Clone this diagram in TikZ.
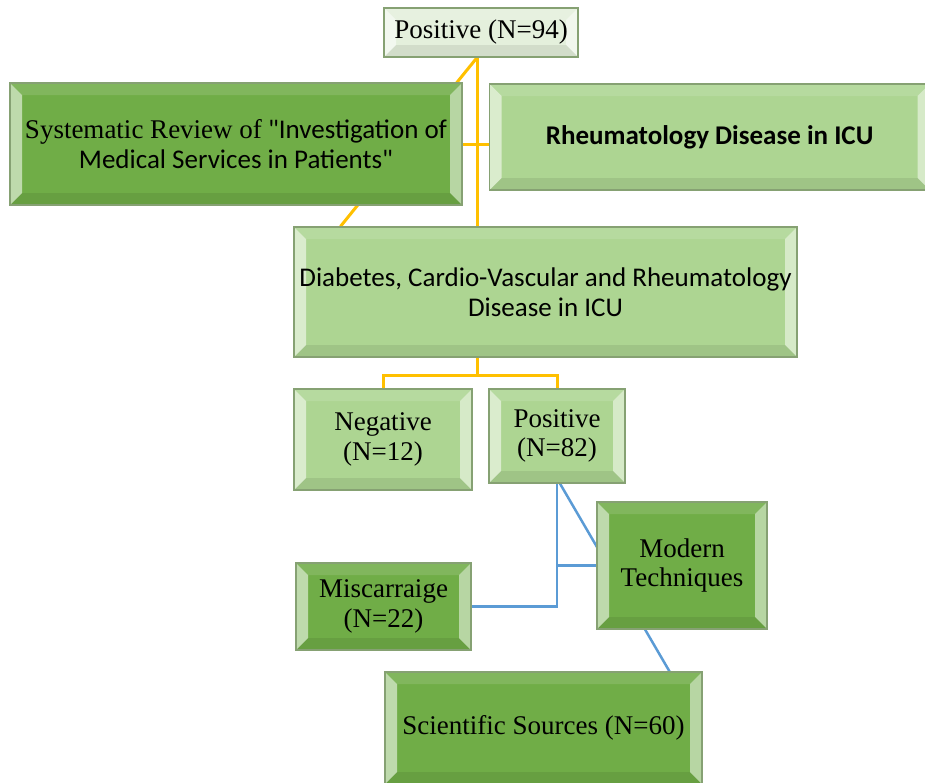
\documentclass[tikz,border=0pt]{standalone}
\usepackage{fontspec}
\setmainfont{Liberation Serif}
\newfontfamily\calfnt{Carlito}
\usetikzlibrary{backgrounds,calc}
\definecolor{dkg}{HTML}{70AD47}
\definecolor{ltg}{HTML}{ADD592}
\definecolor{vlg}{HTML}{E4F0DC}
\definecolor{bord}{HTML}{86A173}
\definecolor{ylw}{HTML}{FFC000}
\definecolor{blu}{HTML}{5B9BD5}
\tikzset{
  bevel/.style={draw=bord, line width=1.2pt, fill=#1, align=center, inner sep=0pt,
    path picture={
      \path (path picture bounding box.south west) coordinate (bsw)
            (path picture bounding box.north east) coordinate (bne);
      \fill[white,opacity=.55] (bsw) -- ([shift={(12pt,12pt)}]bsw) -- ([shift={(12pt,-12pt)}]bsw|-bne) -- (bsw|-bne) -- cycle;
      \fill[white,opacity=.12] (bsw|-bne) -- ([shift={(12pt,-12pt)}]bsw|-bne) -- ([shift={(-12pt,-12pt)}]bne) -- (bne) -- cycle;
      \fill[white,opacity=.5] (bne) -- ([shift={(-12pt,-12pt)}]bne) -- ([shift={(-12pt,12pt)}]bne|-bsw) -- (bne|-bsw) -- cycle;
      \fill[black,opacity=.08] (bne|-bsw) -- ([shift={(-12pt,12pt)}]bne|-bsw) -- ([shift={(12pt,12pt)}]bsw) -- (bsw) -- cycle;
    }},
  tnr/.style={font=\fontsize{27}{29.5}\selectfont},
  cb/.style={font=\calfnt\fontsize{27}{29.5}\selectfont},
  yl/.style={draw=ylw, line width=3pt},
  bl/.style={draw=blu, line width=2.5pt},
}
\begin{document}
\begin{tikzpicture}[x=1pt,y=-1pt]
\useasboundingbox (0,0) rectangle (925,782);
\node[bevel=vlg, tnr, minimum width=194, minimum height=49] (top) at (481,32.5) {Positive (N=94)};
\node[bevel=dkg, cb, minimum width=452, minimum height=122] (sys) at (236,144)
  {{\rmfamily Systematic Review of} "Investigation of\\Medical Services in Patients"};
\node[bevel=ltg, cb, minimum width=440, minimum height=106, anchor=west] (rheu) at (489,137)
  {\bfseries Rheumatology Disease in ICU};
\node[bevel=ltg, cb, minimum width=503, minimum height=130] (diab) at (545.5,292)
  {Diabetes, Cardio-Vascular and Rheumatology\\Disease in ICU};
\node[bevel=ltg, tnr, minimum width=178, minimum height=101] (neg) at (383,439.5) {Negative\\(N=12)};
\node[bevel=ltg, tnr, minimum width=136, minimum height=94] (pos) at (557,436) {Positive\\(N=82)};
\node[bevel=dkg, tnr, minimum width=170, minimum height=127] (mod) at (682,565.5) {Modern\\Techniques};
\node[bevel=dkg, tnr, minimum width=175, minimum height=87] (mis) at (383.5,606.5) {Miscarraige\\(N=22)};
\node[bevel=dkg, tnr, minimum width=317, minimum height=112] (sci) at (543.5,728) {Scientific Sources (N=60)};
\coordinate (j) at (477,375);
\begin{scope}[on background layer]
  \draw[yl] ([xshift=-4]top.south) -- ([xshift=-4]top.south |- diab.north);
  \draw[yl] ([xshift=-4]top.south) -- ([xshift=-205]diab.north);
  \draw[yl] (sys.east) -- (sys.east -| rheu.west);
  \draw[yl] (diab.south -| j) -- (j);
  \draw[yl] (neg.north) |- (j) -| (pos.north);
  \draw[bl] (pos.south) |- (mis.east);
  \draw[bl] (mod.west) -- (mod.west -| pos.south);
  \draw[bl] ([xshift=3]pos.south) -- ([xshift=126]sci.north);
\end{scope}
\end{tikzpicture}
\end{document}
